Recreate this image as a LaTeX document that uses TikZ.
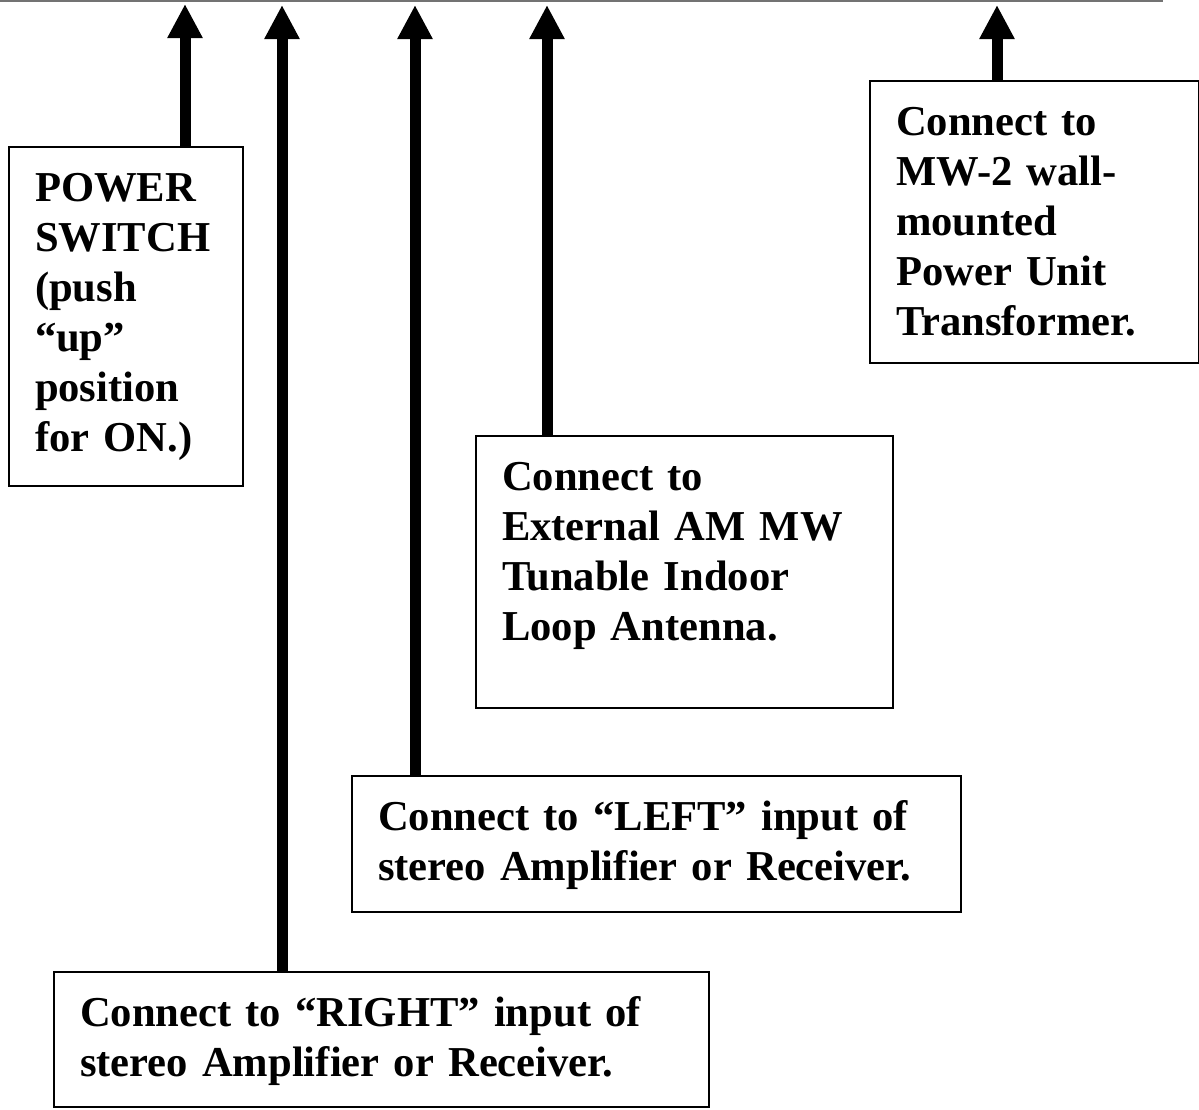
\documentclass[tikz,border=0pt]{standalone}
\usepackage{fontspec}
\setmainfont{Liberation Serif}
\usetikzlibrary{arrows.meta}
\tikzset{
  note/.style={draw, line width=1pt, anchor=north west, align=left, inner xsep=13pt, inner ysep=0pt,
    text height=27pt, font=\fontsize{21.3}{25}\selectfont\bfseries},
  feed/.style={-{Triangle[width=16.5pt,length=17pt]}, line width=5.5pt}
}
\begin{document}
\begin{tikzpicture}[x=.5pt, y=-.5pt]
\useasboundingbox (0,0) rectangle (1199,1109);
\draw [black!55, line width=1.2pt] (0,1)--(1163,1);
\coordinate (tswitch) at (185,4);
\coordinate (tright) at (282,5);
\coordinate (tleft) at (415,5);
\coordinate (tloop) at (547,5);
\coordinate (tmains) at (997,5);
\node [note, text width=91pt, text depth=142.5pt] (power) at (8,146) {POWER\\SWITCH\\(push\\“up”\\position\\for ON.)};
\node [note, text width=138.5pt, text depth=114pt] (mains) at (869,80) {Connect to\\MW-2 wall-\\mounted\\Power Unit\\Transformer.};
\node [note, text width=182.5pt, text depth=109pt] (loop) at (475,435) {Connect to\\External AM MW\\Tunable Indoor\\Loop Antenna.};
\node [note, text width=278.5pt, text depth=41pt] (leftin) at (351,775) {Connect to “LEFT” input of\\stereo Amplifier or Receiver.};
\node [note, text width=301.5pt, text depth=40.5pt] (rightin) at (53,971) {Connect to “RIGHT” input of\\stereo Amplifier or Receiver.};
\draw [feed] (power.north -| tswitch)--(tswitch);
\draw [feed] (rightin.north -| tright)--(tright);
\draw [feed] (leftin.north -| tleft)--(tleft);
\draw [feed] (loop.north -| tloop)--(tloop);
\draw [feed] (mains.north -| tmains)--(tmains);
\end{tikzpicture}
\end{document}
